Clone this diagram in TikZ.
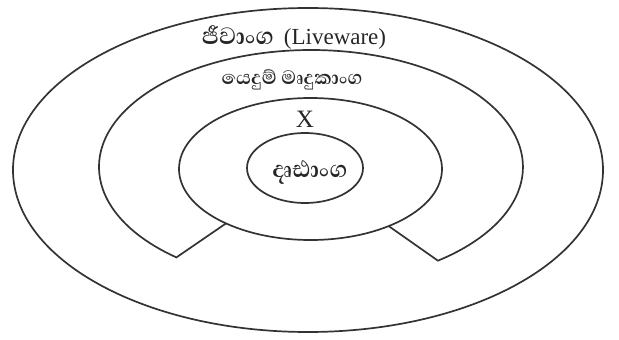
\documentclass[tikz,border=0pt]{standalone}
\usepackage{fontspec}
\usepackage{graphicx}
\setmainfont{Liberation Serif}
\newfontfamily\sinfont[Script=Sinhala]{Abhaya Libre}
\begin{document}
\begin{tikzpicture}[x=1pt,y=-1pt,
  ring/.style={draw=black!80,line width=1.7pt},
  lbl/.style={inner sep=0pt,text=black!85}]
\useasboundingbox (0,0) rectangle (619,340);
% outer ellipse (Liveware)
\draw[ring] (308,170) ellipse [x radius=295, y radius=162];
% middle band (application software), open at the bottom
\coordinate (ml) at (176.4,257.4);
\coordinate (mr) at (438.0,260.7);
\coordinate (il) at (226.0,223.4);
\coordinate (ir) at (388.7,226.1);
\draw[ring,line join=miter] (il) -- (ml) arc[start angle=129.4, end angle=413.2, x radius=212, y radius=117] -- (ir);
% X ellipse
\draw[ring] (310.5,169) ellipse [x radius=131.5, y radius=71];
% hardware ellipse
\draw[ring] (305,168) ellipse [x radius=58, y radius=35];
% labels
\node[lbl] (live) at (294,37) {\resizebox{72pt}{!}{\sinfont\bfseries ජීවාංග}\hspace{10pt}\fontsize{23}{25}\selectfont(Liveware)};
\node[lbl] (app) at (292,80) {\resizebox{141pt}{!}{\sinfont\bfseries යෙදුම් මෘදුකාංග}};
\node[lbl] (x) at (305,119) {\fontsize{25}{27}\selectfont X};
\node[lbl] (hw) at (310,172) {\resizebox{75pt}{!}{\sinfont\bfseries දෘඪාංග}};
\end{tikzpicture}
\end{document}
